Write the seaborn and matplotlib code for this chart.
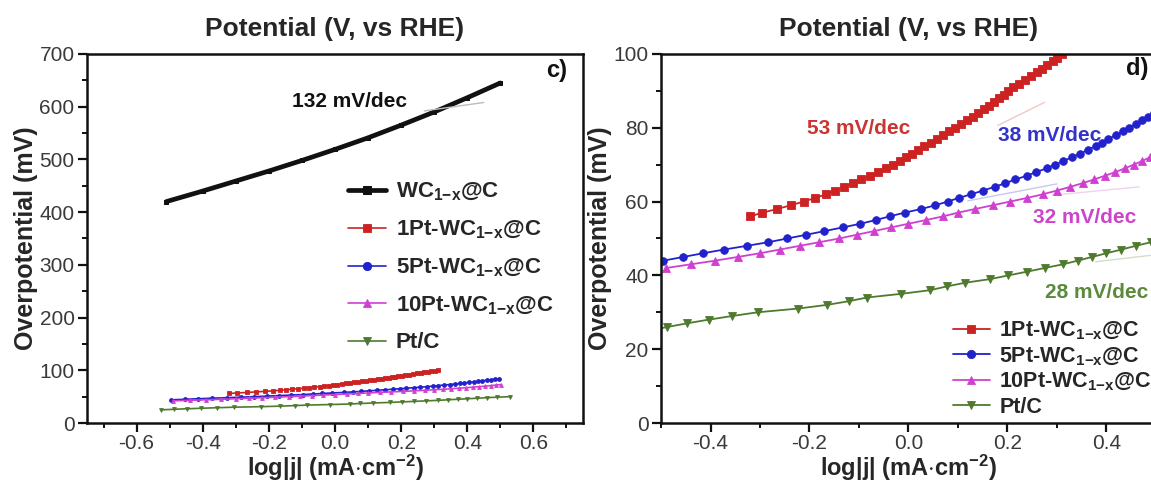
import matplotlib
matplotlib.use("Agg")
import matplotlib.pyplot as plt
from matplotlib.ticker import MultipleLocator
import seaborn as sns
import pandas as pd

# ---------------- data ----------------
wc_x = [-0.51, -0.40, -0.30, -0.20, -0.10, 0.00, 0.10, 0.20, 0.30, 0.40, 0.50]
wc_y = [420, 440, 459, 478, 498, 519, 541, 565, 590, 617, 645]

pt1_x = [-0.320, -0.295, -0.265, -0.238, -0.212, -0.188, -0.166, -0.148, -0.130, -0.112,
         -0.095, -0.078, -0.062, -0.046, -0.032, -0.018, -0.005, 0.007, 0.020, 0.032,
         0.045, 0.057, 0.070, 0.082, 0.094, 0.106, 0.118, 0.130, 0.141, 0.152,
         0.162, 0.172, 0.182, 0.192, 0.202, 0.212, 0.223, 0.235, 0.247, 0.259,
         0.270, 0.280, 0.291, 0.301, 0.311]
pt1_y = [56, 57, 58, 59, 60, 61, 62, 63, 64, 65, 66, 67, 68, 69, 70, 71, 72, 73, 74, 75,
         76, 77, 78, 79, 80, 81, 82, 83, 84, 85, 86, 87, 88, 89, 90, 91, 92, 93, 94, 95,
         96, 97, 98, 99, 100]

pt5_x = [-0.495, -0.455, -0.415, -0.373, -0.327, -0.283, -0.245, -0.207, -0.170, -0.133,
         -0.097, -0.066, -0.038, -0.008, 0.026, 0.054, 0.079, 0.102, 0.127, 0.151,
         0.174, 0.196, 0.216, 0.239, 0.258, 0.279, 0.296, 0.313, 0.330, 0.347,
         0.362, 0.378, 0.391, 0.404, 0.419, 0.433, 0.446, 0.459, 0.471, 0.483, 0.496]
pt5_y = [44, 45, 46, 47, 48, 49, 50, 51, 52, 53, 54, 55, 56, 57, 58, 59, 60, 61, 62, 63,
         64, 65, 66, 67, 68, 69, 70, 71, 72, 73, 74, 75, 76, 77, 78, 79, 80, 81, 82, 83, 84]

pt10_x = [-0.490, -0.440, -0.390, -0.345, -0.300, -0.260, -0.220, -0.180, -0.140, -0.105,
          -0.070, -0.035, 0.000, 0.035, 0.070, 0.100, 0.135, 0.170, 0.205, 0.240,
          0.272, 0.300, 0.327, 0.352, 0.375, 0.397, 0.418, 0.437, 0.455, 0.472,
          0.488, 0.503]
pt10_y = [42, 43, 44, 45, 46, 47, 48, 49, 50, 51, 52, 53, 54, 55, 56, 57, 58, 59, 60, 61,
          62, 63, 64, 65, 66, 67, 68, 69, 70, 71, 72, 73]

ptc_x = [-0.525, -0.488, -0.448, -0.404, -0.356, -0.305, -0.224, -0.165, -0.121, -0.084,
         -0.015, 0.044, 0.077, 0.114, 0.165, 0.202, 0.239, 0.275, 0.312, 0.342,
         0.371, 0.400, 0.430, 0.459, 0.490, 0.530]
ptc_y = [25, 26, 27, 28, 29, 30, 31, 32, 33, 34, 35, 36, 37, 38, 39, 40, 41, 42, 43, 44,
         45, 46, 47, 48, 49, 50]

labels = [r"WC$_{1\mathbf{-}x}$@C", r"1Pt-WC$_{1\mathbf{-}x}$@C", r"5Pt-WC$_{1\mathbf{-}x}$@C",
          r"10Pt-WC$_{1\mathbf{-}x}$@C", "Pt/C"]
colors = ["#111111", "#cc2222", "#2222cc", "#d040d0", "#4f7a2e"]
markers = ["s", "s", "o", "^", "v"]

# faint Tafel fit segments
fit_wc = ([0.27, 0.45], [592, 608])
fit_right = {
    "1Pt": ([0.18, 0.275], [80.6, 86.9]),
    "5Pt": ([0.12, 0.30], [60.2, 64.8]),
    "10Pt": ([0.29, 0.466], [61.7, 64.0]),
    "PtC": ([0.378, 0.50], [43.7, 45.6]),
}
slope_texts = ["53 mV/dec", "38 mV/dec", "32 mV/dec", "28 mV/dec"]

# ---------------- style ----------------
sns.set_theme(style="ticks")
plt.rcParams["font.family"] = ["Liberation Sans", "DejaVu Sans"]
plt.rcParams["mathtext.fontset"] = "custom"
plt.rcParams["mathtext.rm"] = "Liberation Sans:bold"
plt.rcParams["mathtext.bf"] = "Liberation Sans:bold"
plt.rcParams["mathtext.it"] = "Liberation Sans:bold"
plt.rcParams["mathtext.default"] = "bf"
plt.rcParams["axes.unicode_minus"] = False

fig = plt.figure(figsize=(11.51, 4.82), dpi=100)
ax1 = fig.add_axes([0.0756, 0.1224, 0.4309, 0.7656])
ax2 = fig.add_axes([0.5743, 0.1224, 0.4300, 0.7656])

series = [(wc_x, wc_y), (pt1_x, pt1_y), (pt5_x, pt5_y), (pt10_x, pt10_y), (ptc_x, ptc_y)]

# left panel
for i, ((xs, ys), lab, c, m) in enumerate(zip(series, labels, colors, markers)):
    df = pd.DataFrame({"x": xs, "y": ys})
    if i == 0:
        sns.lineplot(data=df, x="x", y="y", ax=ax1, color=c, lw=3.4, marker=m, ms=2.5,
                     mec=c, sort=False, estimator=None, label=lab)
    else:
        sns.lineplot(data=df, x="x", y="y", ax=ax1, color=c, lw=1.2, marker=m, ms=2.8,
                     mec=c, mew=0.6, sort=False, estimator=None, label=lab)
ax1.plot(fit_wc[0], fit_wc[1], color="#bbbbbb", lw=1.0)

# right panel
for i, ((xs, ys), lab, c, m) in enumerate(zip(series[1:], labels[1:], colors[1:], markers[1:])):
    df = pd.DataFrame({"x": xs, "y": ys})
    sns.lineplot(data=df, x="x", y="y", ax=ax2, color=c, lw=1.3, marker=m, ms=5.5,
                 mec=c, mew=0.6, sort=False, estimator=None, label=lab)
for (k, (fx, fy)), c in zip(fit_right.items(), colors[1:]):
    ax2.plot(fx, fy, color=c, lw=1.0, alpha=0.25)

# axes formatting
for ax in (ax1, ax2):
    for s in ax.spines.values():
        s.set_linewidth(1.8)
        s.set_color("#111111")
    ax.tick_params(which="major", direction="out", length=6.5, width=1.6,
                   labelsize=15, labelcolor="#3a3a3a", color="#111111",
                   top=False, right=False, pad=1.5)
    ax.tick_params(which="minor", direction="out", length=3.6, width=1.4,
                   color="#111111", top=False, right=False)
    ax.tick_params(axis="y", which="major", pad=2.5)
    ax.set_title("Potential (V, vs RHE)", fontsize=19, fontweight="bold", pad=13)
    ax.set_xlabel(r"log|j| (mA$\cdot$cm$^{-2}$)", fontsize=17, fontweight="bold", labelpad=0)
    ax.set_ylabel("Overpotential (mV)", fontsize=18, fontweight="bold", labelpad=1)

ax1.set_xlim(-0.75, 0.75)
ax1.set_ylim(0, 700)
ax1.xaxis.set_minor_locator(MultipleLocator(0.1))
ax1.yaxis.set_major_locator(MultipleLocator(100))
ax1.yaxis.set_minor_locator(MultipleLocator(50))
ax1.set_xticks([-0.6, -0.4, -0.2, 0.0, 0.2, 0.4, 0.6])
ax1.set_xticklabels(["-0.6", "-0.4", "-0.2", "0.0", "0.2", "0.4", "0.6"])

ax2.set_xlim(-0.5, 0.5)
ax2.set_ylim(0, 100)
ax2.set_xticks([-0.4, -0.2, 0.0, 0.2, 0.4])
ax2.set_xticklabels(["-0.4", "-0.2", "0.0", "0.2", "0.4"])
ax2.xaxis.set_minor_locator(MultipleLocator(0.1))
ax2.yaxis.set_major_locator(MultipleLocator(20))
ax2.yaxis.set_minor_locator(MultipleLocator(10))

# annotations
ax1.text(0.043, 609, "132 mV/dec", fontsize=15, fontweight="bold", color="#111111",
         ha="center", va="center")
ax1.text(0.67, 669, "c)", fontsize=17, fontweight="bold", color="#111111",
         ha="center", va="center")
ax2.text(-0.101, 79.9, slope_texts[0], fontsize=15, fontweight="bold", color="#cc3333",
         ha="center", va="center")
ax2.text(0.286, 78.0, slope_texts[1], fontsize=15, fontweight="bold", color="#3333cc",
         ha="center", va="center")
ax2.text(0.355, 55.8, slope_texts[2], fontsize=15, fontweight="bold", color="#cc44cc",
         ha="center", va="center")
ax2.text(0.381, 35.5, slope_texts[3], fontsize=15, fontweight="bold", color="#5a8a3a",
         ha="center", va="center")
ax2.text(0.462, 96.2, "d)", fontsize=17, fontweight="bold", color="#111111",
         ha="center", va="center")

leg1 = ax1.legend(loc="upper left", bbox_to_anchor=(0.526, 0.655), frameon=False,
                  prop={"size": 16, "weight": "bold"}, handlelength=1.7, handletextpad=0.45,
                  labelspacing=0.70, borderpad=0, borderaxespad=0)
leg2 = ax2.legend(loc="upper left", bbox_to_anchor=(0.59, 0.28), frameon=False,
                  prop={"size": 15.5, "weight": "bold"}, handlelength=1.7, handletextpad=0.45,
                  labelspacing=0.16, borderpad=0, borderaxespad=0)
for leg in (leg1, leg2):
    for h in leg.legend_handles:
        h.set_markersize(6)

fig.savefig("out.png", dpi=100)
